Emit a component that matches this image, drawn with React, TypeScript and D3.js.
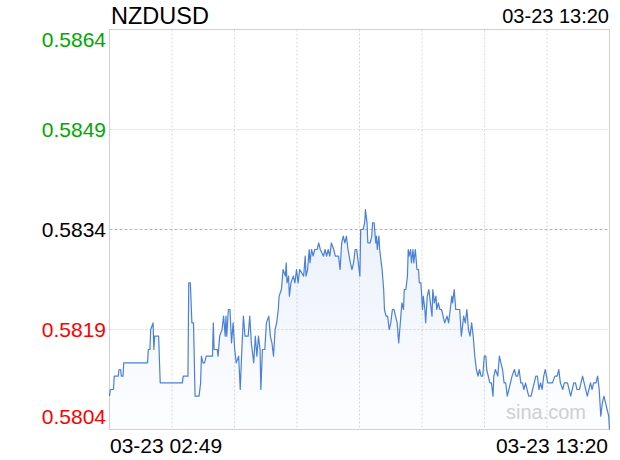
import React from "react";
import * as d3 from "d3";

const symbol = "NZDUSD";
const startLabel = "03-23 02:49";
const endLabel = "03-23 13:20";
const totalMinutes = 631;
const prevClose = 0.5834;
const yTicks = [0.5804, 0.5819, 0.5834, 0.5849, 0.5864];

const minutes = [
  0, 1, 5, 6, 11, 12, 14, 15, 17, 18, 48, 49, 51, 52, 55, 56, 57, 62, 64, 92, 93, 99, 100, 102,
  104, 106, 108, 113, 115, 116, 118, 120, 122, 130, 131, 132, 136, 137, 139, 142, 144, 146, 147, 148,
  150, 152, 154, 156, 158, 160, 163, 165, 167, 169, 171, 175, 177, 179, 182, 184, 186, 188, 190, 191,
  193, 196, 198, 201, 203, 205, 207, 209, 211, 213, 214, 217, 219, 222, 223, 224, 226, 227, 229, 232,
  234, 236, 238, 240, 245, 247, 248, 250, 252, 253, 255, 257, 259, 262, 264, 266, 270, 272, 274, 276,
  278, 280, 283, 285, 289, 291, 293, 295, 297, 299, 301, 304, 306, 308, 310, 312, 314, 316, 317, 320,
  322, 323, 325, 326, 329, 331, 332, 334, 336, 337, 338, 340, 341, 343, 344, 346, 347, 349, 351, 352,
  353, 355, 357, 359, 361, 363, 365, 367, 369, 371, 372, 374, 376, 377, 378, 380, 381, 383, 384, 386,
  388, 390, 391, 393, 395, 396, 398, 399, 401, 403, 405, 407, 408, 410, 412, 413, 415, 417, 419, 421,
  423, 426, 428, 430, 432, 433, 435, 437, 442, 444, 447, 449, 451, 453, 455, 457, 459, 461, 463, 465,
  467, 469, 471, 473, 475, 476, 478, 480, 482, 484, 485, 487, 490, 492, 494, 496, 498, 500, 502, 504,
  506, 508, 511, 513, 515, 517, 519, 521, 523, 525, 527, 529, 532, 534, 536, 538, 540, 542, 544, 546,
  548, 550, 553, 555, 557, 559, 562, 565, 567, 569, 572, 574, 578, 580, 582, 584, 586, 588, 590, 593,
  595, 597, 599, 601, 603, 605, 607, 609, 611, 614, 616, 618, 620, 622, 624, 626, 628, 630, 631,
];

const prices = [
  0.5809, 0.581, 0.581, 0.5812, 0.5812, 0.5813, 0.5813, 0.5812, 0.5812, 0.5814, 0.5814, 0.5816, 0.5816, 0.5819, 0.582, 0.5816, 0.5818, 0.5818, 0.5811, 0.5811, 0.5812, 0.5812, 0.5826, 0.5826,
  0.582, 0.582, 0.5809, 0.5809, 0.5811, 0.5815, 0.5814, 0.5814, 0.5815, 0.5815, 0.582, 0.5816, 0.5816, 0.5815, 0.5818, 0.5819, 0.5821, 0.5818, 0.5821, 0.5818,
  0.5822, 0.5822, 0.5817, 0.582, 0.5816, 0.5814, 0.5815, 0.581, 0.5816, 0.5821, 0.5818, 0.5818, 0.5821, 0.5817, 0.5814, 0.5818, 0.5815, 0.5818, 0.5816, 0.581,
  0.5816, 0.5816, 0.582, 0.5821, 0.5818, 0.5817, 0.5815, 0.5819, 0.582, 0.5822, 0.5824, 0.5825, 0.5828, 0.5827, 0.5829, 0.5826, 0.5827, 0.5824, 0.5826, 0.5827,
  0.5826, 0.5828, 0.5826, 0.5828, 0.5827, 0.583, 0.5827, 0.5828, 0.5831, 0.5829, 0.5831, 0.583, 0.5831, 0.5831, 0.5832, 0.5831, 0.583, 0.5831, 0.583, 0.5831,
  0.583, 0.5832, 0.5831, 0.583, 0.583, 0.5828, 0.5832, 0.5833, 0.5832, 0.5833, 0.5831, 0.5829, 0.5828, 0.5829, 0.5831, 0.5831, 0.5829, 0.5827, 0.5834, 0.5834,
  0.5835, 0.5837, 0.5835, 0.5832, 0.5832, 0.5833, 0.5835, 0.5835, 0.5832, 0.5833, 0.5831, 0.5833, 0.5831, 0.5829, 0.5828, 0.5825, 0.5822, 0.5821, 0.5821, 0.582,
  0.5819, 0.582, 0.5822, 0.5822, 0.5821, 0.582, 0.5817, 0.582, 0.5823, 0.5822, 0.5825, 0.5825, 0.5827, 0.5831, 0.583, 0.5831, 0.5829, 0.5831, 0.5829, 0.5831,
  0.5828, 0.5828, 0.5826, 0.5826, 0.5822, 0.5824, 0.5822, 0.582, 0.5824, 0.5825, 0.5823, 0.5821, 0.5825, 0.5823, 0.5824, 0.5822, 0.5823, 0.5822, 0.5822, 0.5821,
  0.582, 0.5821, 0.582, 0.5822, 0.5824, 0.5823, 0.5825, 0.5822, 0.5822, 0.5818, 0.5821, 0.582, 0.5822, 0.5819, 0.5818, 0.582, 0.5818, 0.5815, 0.5813, 0.5812,
  0.5813, 0.5812, 0.5812, 0.5815, 0.5815, 0.5813, 0.5812, 0.5811, 0.5811, 0.5809, 0.5812, 0.5813, 0.5812, 0.5815, 0.5814, 0.5813, 0.5811, 0.5811, 0.5809, 0.581,
  0.5811, 0.5812, 0.5813, 0.5812, 0.5812, 0.5813, 0.5811, 0.5811, 0.581, 0.5811, 0.581, 0.5809, 0.5809, 0.581, 0.5811, 0.5812, 0.5812, 0.581, 0.5811, 0.581,
  0.5812, 0.5813, 0.5811, 0.5811, 0.5811, 0.5811, 0.5812, 0.5812, 0.5813, 0.5811, 0.581, 0.5811, 0.5811, 0.581, 0.5809, 0.581, 0.5811, 0.5811, 0.581, 0.581,
  0.5811, 0.5812, 0.5811, 0.581, 0.5809, 0.581, 0.5811, 0.581, 0.5811, 0.5811, 0.5812, 0.581, 0.5806, 0.5808, 0.5809, 0.5808, 0.5807, 0.5806, 0.5804,
];

const W = 620;
const H = 460;
const plot = { left: 109.5, right: 609.5, top: 29.5, bottom: 429.5 };
const FONT = "'Liberation Sans', Arial, Helvetica, sans-serif";

export default function App() {
  const x = d3.scaleLinear().domain([0, totalMinutes]).range([plot.left, plot.right]);
  const y = d3.scaleLinear().domain([yTicks[0], yTicks[yTicks.length - 1]]).range([plot.bottom, plot.top]);
  const data = minutes.map((m, i) => ({ m, p: prices[i] }));
  const line = d3.line<{ m: number; p: number }>().x((d) => x(d.m)).y((d) => y(d.p));
  const area = d3
    .area<{ m: number; p: number }>()
    .x((d) => x(d.m))
    .y0(plot.bottom)
    .y1((d) => y(d.p));
  const vGrid = d3.range(1, 8).map((k) => plot.left + ((plot.right - plot.left) * k) / 8);

  const labelColor = (v: number) => (v > prevClose ? "#00a800" : v < prevClose ? "#f00" : "#000");
  const labelBaseline = (v: number, i: number) => {
    if (i === yTicks.length - 1) return y(v) + 17;
    if (i === 0) return y(v) - 6;
    return y(v) + 7.5;
  };

  return (
    <svg width={W} height={H} style={{ position: "absolute", left: 0, top: 0, background: "#fff" }} fontFamily={FONT}>
      <defs>
        <linearGradient id="fillGrad" gradientUnits="userSpaceOnUse" x1="0" y1={plot.top} x2="0" y2={plot.bottom}>
          <stop offset="0" stopColor="#4a80d8" stopOpacity="0.2" />
          <stop offset="1" stopColor="#4a80d8" stopOpacity="0.01" />
        </linearGradient>
      </defs>
      {vGrid.map((gx, i) => (
        <line key={"v" + i} x1={gx} x2={gx} y1={plot.top} y2={plot.bottom} stroke="#d8d8d8" strokeDasharray="2,2" />
      ))}
      {yTicks.slice(1, -1).map((v, i) => (
        <line
          key={"h" + i}
          x1={plot.left}
          x2={plot.right}
          y1={y(v)}
          y2={y(v)}
          stroke={v === prevClose ? "#b8b8b8" : "#d8d8d8"}
          strokeDasharray={v === prevClose ? "3,2" : "2,2"}
        />
      ))}
      <path d={area(data) || ""} fill="url(#fillGrad)" />
      <rect x={plot.left} y={plot.top} width={plot.right - plot.left} height={plot.bottom - plot.top} fill="none" stroke="#d0d0d0" />
      <path d={line(data) || ""} fill="none" stroke="#4a80d8" strokeWidth={1.2} strokeLinejoin="round" />
      <text x={506} y={419} fontSize={20} fill="#cfcfcf">sina.com</text>
      <text x={111} y={24} fontSize={23.5} fill="#000">{symbol}</text>
      <text x={609} y={23.3} fontSize={20} textAnchor="end" fill="#000">{endLabel}</text>
      {yTicks.map((v, i) => (
        <text key={"yl" + i} x={106} y={labelBaseline(v, i)} fontSize={21} textAnchor="end" fill={labelColor(v)}>
          {v.toFixed(4)}
        </text>
      ))}
      <text x={110} y={453} fontSize={21} fill="#000">{startLabel}</text>
      <text x={608} y={453} fontSize={21} textAnchor="end" fill="#000">{endLabel}</text>
    </svg>
  );
}
